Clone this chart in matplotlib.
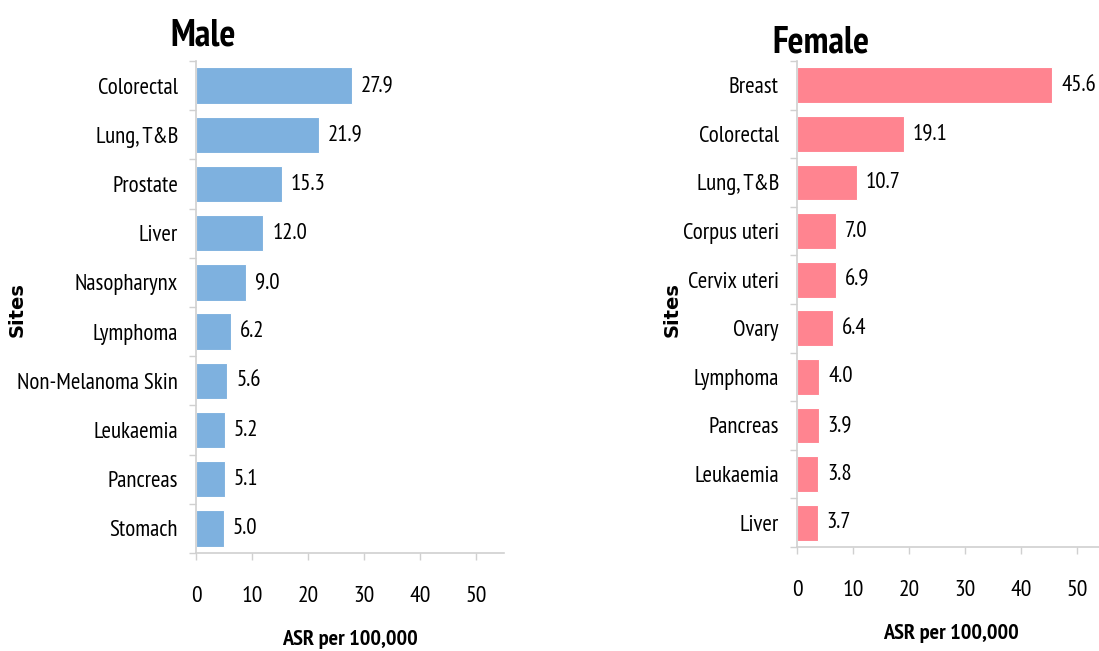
import matplotlib
matplotlib.use("Agg")
import matplotlib.pyplot as plt

# 数据: 年龄标准化发病率 (ASR per 100,000)
male_sites = ["Colorectal", "Lung, T&B", "Prostate", "Liver", "Nasopharynx",
              "Lymphoma", "Non-Melanoma Skin", "Leukaemia", "Pancreas", "Stomach"]
male_asr = [27.9, 21.9, 15.3, 12.0, 9.0, 6.2, 5.6, 5.2, 5.1, 5.0]

female_sites = ["Breast", "Colorectal", "Lung, T&B", "Corpus uteri", "Cervix uteri",
                "Ovary", "Lymphoma", "Pancreas", "Leukaemia", "Liver"]
female_asr = [45.6, 19.1, 10.7, 7.0, 6.9, 6.4, 4.0, 3.9, 3.8, 3.7]

xticks = [0, 10, 20, 30, 40, 50]

plt.rcParams["font.family"] = ["PT Sans Narrow", "DejaVu Sans"]

W, H = 1099, 651
fig = plt.figure(figsize=(W / 100, H / 100), dpi=100)


def px_axes(x0, y0, x1, y1):
    return fig.add_axes([x0 / W, 1 - y1 / H, (x1 - x0) / W, (y1 - y0) / H])


def panel(ax, sites, vals, color):
    y = range(len(sites))
    ax.barh(y, vals, height=0.74, color=color, edgecolor="white", linewidth=0.8)
    ax.set_ylim(len(sites) - 0.5, -0.5)
    ax.set_xlim(0, 55)
    ax.set_yticks(list(y))
    ax.set_yticklabels(sites, fontsize=16.5)
    ax.set_xticks(xticks)
    ax.set_xticklabels([str(t) for t in xticks], fontsize=17)
    # 类别分隔刻度
    ax.set_yticks([i + 0.5 for i in range(-1, len(sites))], minor=True)
    ax.tick_params(axis="y", which="major", length=0, pad=13)
    ax.tick_params(axis="y", which="minor", length=5, color="#d0d0d0", width=1)
    ax.tick_params(axis="x", length=5, color="#d0d0d0", width=1, pad=19)
    for s in ["top", "right"]:
        ax.spines[s].set_visible(False)
    for s in ["left", "bottom"]:
        ax.spines[s].set_color("#d0d0d0")
        ax.spines[s].set_linewidth(1.2)
    for i, v in enumerate(vals):
        ax.text(v + 1.6, i, f"{v:.1f}", va="center", ha="left", fontsize=16.5)
    ax.set_xlabel("ASR per 100,000", fontsize=16, fontweight="bold", labelpad=16)


ax1 = px_axes(196, 61, 504, 553)
panel(ax1, male_sites, male_asr, "#7eb1df")
ax2 = px_axes(797, 61, 1105, 547)
panel(ax2, female_sites, female_asr, "#ff8490")

fig.text(203 / W, 1 - 36 / H, "Male", fontsize=27, fontweight="bold",
         ha="center", va="center")
fig.text(821 / W, 1 - 43 / H, "Female", fontsize=27, fontweight="bold",
         ha="center", va="center")
fig.text(17 / W, 1 - 310 / H, "Sites", fontsize=14, fontweight="bold",
         rotation=90, ha="center", va="center", family="DejaVu Sans")
fig.text(672 / W, 1 - 310 / H, "Sites", fontsize=14, fontweight="bold",
         rotation=90, ha="center", va="center", family="DejaVu Sans")

fig.savefig("out.png", dpi=100)
